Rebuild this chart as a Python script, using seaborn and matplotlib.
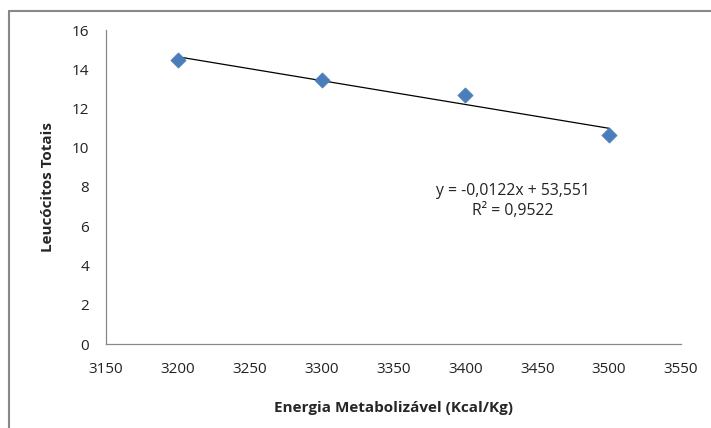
import numpy as np
import pandas as pd
import seaborn as sns
import matplotlib
matplotlib.use("Agg")
import matplotlib.pyplot as plt
from matplotlib.lines import Line2D

energia = [3200, 3300, 3400, 3500]
leucocitos = [14.45, 13.45, 12.7, 10.65]
x_ticks = [3150, 3200, 3250, 3300, 3350, 3400, 3450, 3500, 3550]
y_ticks = [0, 2, 4, 6, 8, 10, 12, 14, 16]
equation = "y = -0,0122x + 53,551"
r2_text = "R² = 0,9522"

sns.set_theme(style="white")
plt.rcParams['font.family'] = ['Open Sans', 'DejaVu Sans']

df = pd.DataFrame({"x": energia, "y": leucocitos})

fig = plt.figure(figsize=(7.11, 4.28), dpi=100)
ax = fig.add_axes([106/711, 1-344/428, (681-106)/711, (344-30)/428])

# trend line
coef = np.polyfit(df["x"], df["y"], 1)
xl = np.array([min(energia), max(energia)])
ax.plot(xl, np.polyval(coef, xl), color="black", lw=0.9, zorder=2)

sns.scatterplot(data=df, x="x", y="y", ax=ax, marker="D", s=60,
                color="#4A7EBB", edgecolor="#4A7EBB", linewidth=0.5, zorder=3)

ax.set_xlim(3150, 3550)
ax.set_ylim(0, 16)
ax.set_xticks(x_ticks)
ax.set_yticks(y_ticks)
ax.set_xticklabels([str(v) for v in x_ticks], fontsize=11, color="#222222")
ax.set_yticklabels([str(v) for v in y_ticks], fontsize=11, color="#222222")
ax.tick_params(axis="x", length=0, pad=13)
ax.tick_params(axis="y", length=0, pad=12)
for s in ["top", "right"]:
    ax.spines[s].set_visible(False)
for s in ["left", "bottom"]:
    ax.spines[s].set_color("#888888")
    ax.spines[s].set_linewidth(0.9)

ax.set_xlabel("Energia Metabolizável (Kcal/Kg)", fontsize=11, fontweight="bold", labelpad=17)
ax.set_ylabel("Leucócitos Totais", fontsize=11, fontweight="bold", labelpad=12)

fig.text(513/711, 1-191/428, equation, ha="center", va="center", fontsize=11.3, color="#222222")
fig.text(513/711, 1-211/428, r2_text, ha="center", va="center", fontsize=11.3, color="#222222")

# outer frame (top and left edges)
fig.add_artist(Line2D([9/711, 1], [1-11/428, 1-11/428], color="#888888", lw=1.5, transform=fig.transFigure))
fig.add_artist(Line2D([9/711, 9/711], [0, 1-11/428], color="#888888", lw=1.5, transform=fig.transFigure))

fig.savefig("out.png", dpi=100)
